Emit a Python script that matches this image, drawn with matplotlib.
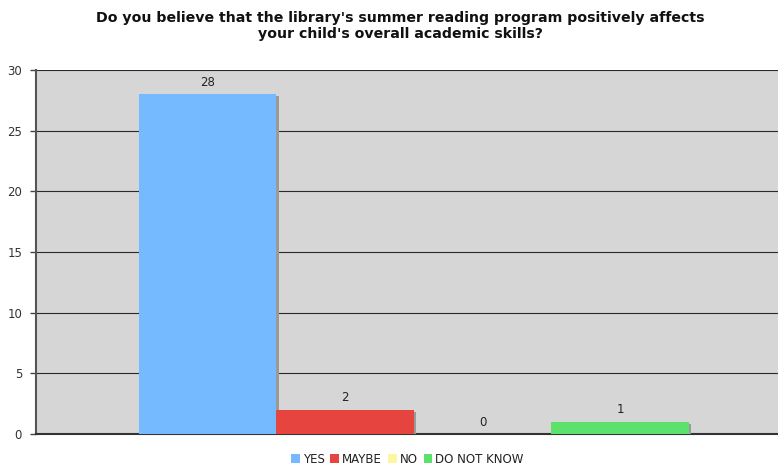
import matplotlib
matplotlib.use("Agg")
import matplotlib.pyplot as plt
import matplotlib.patheffects as pe
from matplotlib.patches import Patch

categories = ["YES", "MAYBE", "NO", "DO NOT KNOW"]
values = [28, 2, 0, 1]
colors = ["#75b9fe", "#e6453f", "#fff5a0", "#5ce26a"]
yticks = [0, 5, 10, 15, 20, 25, 30]
title = "Do you believe that the library's summer reading program positively affects\nyour child's overall academic skills?"

W, H = 778, 465
fig = plt.figure(figsize=(W / 100, H / 100), dpi=100)
ax = fig.add_axes([36 / W, 1 - 434 / H, (778 - 36) / W, (434 - 70) / H])
ax.set_facecolor("#d6d6d6")

x = list(range(len(categories)))
bars = ax.bar(x, values, width=1.0, color=colors, zorder=3, linewidth=0)
for b in bars:
    b.set_path_effects([pe.SimplePatchShadow(offset=(1.5, -1.5), shadow_rgbFace="#9a9a9a", alpha=1.0), pe.Normal()])
for xi, v in zip(x, values):
    ax.text(xi, v + 0.45, str(v), ha="center", va="bottom", fontsize=8.5, color="#222222", zorder=4)

ax.set_xlim(-1.25, 4.15)
ax.set_ylim(0, 30)
ax.set_yticks(yticks)
ax.set_yticklabels([str(t) for t in yticks], fontsize=8.5, color="#333333")
ax.set_xticks([])
ax.yaxis.grid(True, color="#2a2a2a", linewidth=0.8, zorder=1)
ax.set_axisbelow(True)
ax.tick_params(axis="y", length=4, width=1, color="#444444", pad=6)
for s in ["top", "right"]:
    ax.spines[s].set_visible(False)
ax.spines["left"].set_color("#555555")
ax.spines["left"].set_linewidth(1.5)
ax.spines["bottom"].set_color("#333333")
ax.spines["bottom"].set_linewidth(1.5)

fig.text(0.515, 1 - 26 / H, title, ha="center", va="center", fontsize=10.2, fontweight="bold", color="#111111", linespacing=1.25)

handles = [Patch(facecolor=c, edgecolor="none", label=l) for c, l in zip(colors, categories)]
fig.legend(handles=handles, loc="center", bbox_to_anchor=(0.5235, 1 - 459 / H), ncol=4, frameon=False,
           fontsize=8.5, handlelength=0.75, handleheight=0.75, handletextpad=0.25, columnspacing=0.5, labelcolor="#222222")

fig.savefig("out.png", dpi=100)
